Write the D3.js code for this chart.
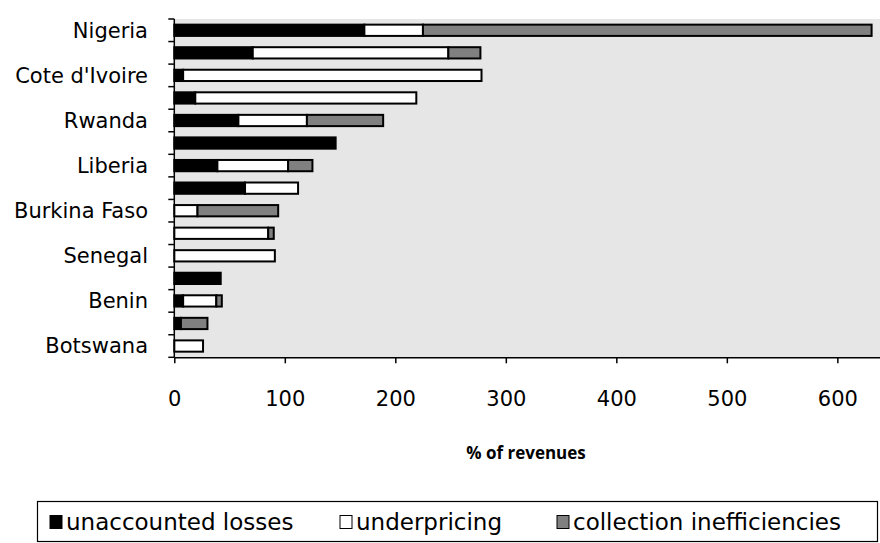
<!DOCTYPE html>
<html>
<head>
<meta charset="utf-8">
<script src="https://cdn.jsdelivr.net/npm/d3@7"></script>
<style>
  body { margin: 0; background: #fff; }
  text { font-family: "DejaVu Sans", sans-serif; fill: #000; }
</style>
</head>
<body>
<div id="chart"></div>
<script>
// rows top to bottom, only every other row is labelled in the original
var countries = ["Nigeria", "", "Cote d'Ivoire", "", "Rwanda", "", "Liberia", "", "Burkina Faso", "", "Senegal", "", "Benin", "", "Botswana"];
var unaccounted = [172, 71, 8, 19, 58, 146, 39, 64, 0, 0, 0, 42, 8, 6, 0];
var underpricing = [53, 177, 270, 200, 62, 0, 64, 48, 21, 85, 91, 0, 30, 0, 26];
var collection = [406, 29, 0, 0, 69, 0, 22, 0, 73, 5, 0, 0, 5, 24, 0];
var seriesNames = ["unaccounted losses", "underpricing", "collection inefficiencies"];
var seriesColors = ["#000000", "#ffffff", "#808080"];
var xTicks = [0, 100, 200, 300, 400, 500, 600];
var xMax = 638.6;

var W = 880, H = 543;
var plot = { left: 174.3, top: 19, right: 880, bottom: 357.3 };

var svg = d3.select("#chart")
  .append("svg")
  .attr("width", W)
  .attr("height", H);

var rows = countries.map(function(c, i) {
  return { idx: i, a: unaccounted[i], b: underpricing[i], c: collection[i] };
});
var stacked = d3.stack().keys(["a", "b", "c"])(rows);

var x = d3.scaleLinear().domain([0, xMax]).range([plot.left, plot.right]);
var y = d3.scaleBand()
  .domain(d3.range(countries.length))
  .range([plot.top, plot.bottom])
  .paddingInner(0.5)
  .paddingOuter(0.25);

// plot background
svg.append("rect")
  .attr("x", plot.left)
  .attr("y", plot.top)
  .attr("width", plot.right - plot.left)
  .attr("height", plot.bottom - plot.top)
  .attr("fill", "#e6e6e6");

// bars
svg.selectAll(".series")
  .data(stacked)
  .enter()
  .append("g")
  .attr("class", "series")
  .attr("fill", function(d, i) { return seriesColors[i]; })
  .selectAll("rect")
  .data(function(d) { return d.filter(function(s) { return s[1] - s[0] > 0; }); })
  .enter()
  .append("rect")
  .attr("x", function(d) { return x(d[0]); })
  .attr("y", function(d) { return y(d.data.idx); })
  .attr("width", function(d) { return x(d[1]) - x(d[0]); })
  .attr("height", y.bandwidth())
  .attr("stroke", "#000")
  .attr("stroke-width", 2);

// x axis
var xAxis = d3.axisBottom(x).tickValues(xTicks).tickSize(6).tickSizeOuter(0).tickPadding(28);
var gx = svg.append("g")
  .attr("transform", "translate(0," + plot.bottom + ")")
  .call(xAxis);
gx.selectAll("text").style("font-family", "'DejaVu Sans', sans-serif").style("font-size", "21px");
gx.selectAll("line, path").attr("stroke", "#000").attr("stroke-width", 1.5);

// y axis: ticks at category boundaries, labels on rows
var gy = svg.append("g");
gy.append("line")
  .attr("x1", plot.left).attr("x2", plot.left)
  .attr("y1", plot.top).attr("y2", plot.bottom)
  .attr("stroke", "#000").attr("stroke-width", 1.5);
gy.selectAll(".ytick")
  .data(d3.range(countries.length + 1))
  .enter()
  .append("line")
  .attr("x1", plot.left - 6)
  .attr("x2", plot.left)
  .attr("y1", function(k) { return plot.top + k * y.step(); })
  .attr("y2", function(k) { return plot.top + k * y.step(); })
  .attr("stroke", "#000").attr("stroke-width", 1.5);
gy.selectAll(".ylab")
  .data(countries)
  .enter()
  .append("text")
  .attr("x", 148)
  .attr("y", function(d, i) { return y(i) + y.bandwidth() / 2; })
  .attr("dy", "0.35em")
  .attr("text-anchor", "end")
  .style("font-size", "21px")
  .text(function(d) { return d; });

// axis title
svg.append("text")
  .attr("x", 526)
  .attr("y", 453)
  .attr("dy", "0.35em")
  .attr("text-anchor", "middle")
  .style("font-family", "'Open Sans', sans-serif")
  .style("font-size", "17px")
  .style("font-weight", "bold")
  .text("% of revenues");

// legend
var legend = svg.append("g");
legend.append("rect")
  .attr("x", 37.5).attr("y", 501.5)
  .attr("width", 840).attr("height", 40)
  .attr("fill", "#fff")
  .attr("stroke", "#000").attr("stroke-width", 1.2);

var legendX = [50, 340, 557];
var items = legend.selectAll(".item")
  .data(seriesNames)
  .enter()
  .append("g")
  .attr("class", "item")
  .attr("transform", function(d, i) { return "translate(" + legendX[i] + ",522)"; });
items.append("rect")
  .attr("width", 12).attr("height", 13)
  .attr("y", -6.5)
  .attr("fill", function(d, i) { return seriesColors[i]; })
  .attr("stroke", "#000").attr("stroke-width", 1);
items.append("text")
  .attr("x", 16)
  .attr("dy", "0.35em")
  .style("font-size", "23px")
  .text(function(d) { return d; });
</script>
</body>
</html>
